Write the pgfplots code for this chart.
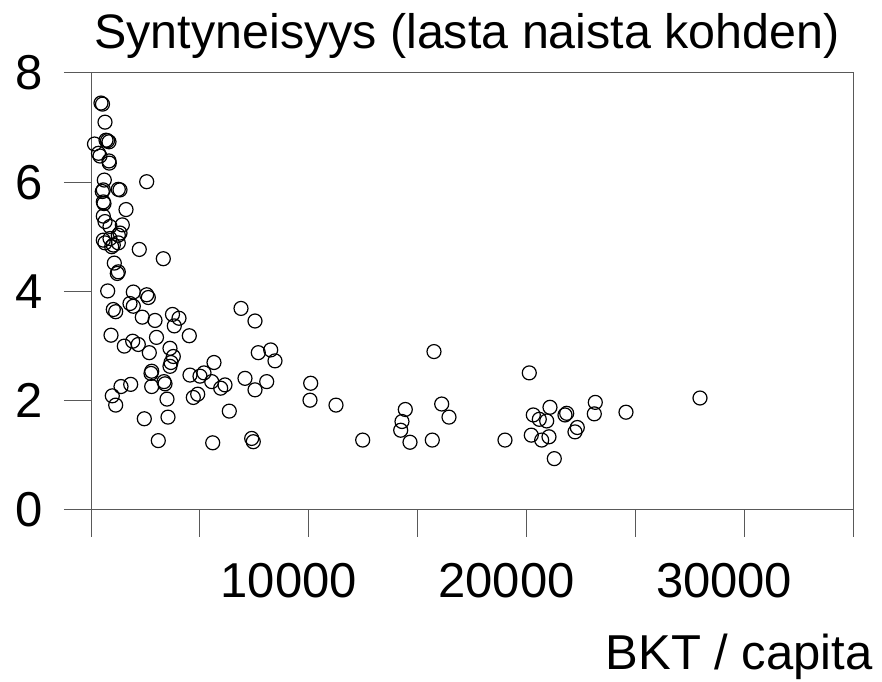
\documentclass[border=0pt]{standalone}
\usepackage{fontspec}
\setmainfont{Liberation Sans}
\usepackage{pgfplots}
\pgfplotsset{compat=1.18}
\begin{document}
\begin{tikzpicture}
\begin{axis}[
  name=ax,
  scale only axis,
  width=381pt, height=218.5pt,
  xmin=0, xmax=35000, ymin=0, ymax=8,
  scaled x ticks=false,
  xtick={0,5000,...,35000},
  xticklabels={,,10000,,20000,,30000,},
  ytick={0,2,4,6,8},
  yticklabels={0,2,4,6,8},
  tick align=outside,
  xtick pos=bottom, ytick pos=left,
  major tick length=13.5pt,
  tick style={draw=black!65, line width=0.5pt},
  axis line style={draw=black!65, line width=0.5pt},
  ticklabel style={font=\fontsize{24.5}{24.5}\selectfont, inner sep=0pt},
  xticklabel style={yshift=-13pt, xshift=-10pt},
  yticklabel style={xshift=-10.5pt},
  /pgf/number format/assume math mode=true,
  title={Syntyneisyys (lasta naista kohden)},
  every axis title/.style={font=\fontsize{24.2}{24.2}\selectfont, at={(axis description cs:0.5,1)}, anchor=base, yshift=12pt, xshift=-2.5pt, inner sep=0pt},
  xlabel={BKT / capita},
  every axis x label/.style={font=\fontsize{24.5}{24.5}\selectfont, at={(axis description cs:1,0)}, anchor=base east, xshift=10pt, yshift=-80pt, inner sep=0pt},
]
\addplot[only marks, mark=o, mark size=3.5pt, mark options={draw=black, line width=0.6pt}] table[row sep=\\] {
x y\\
459 7.45\\ 528 7.43\\ 643 7.10\\ 689 6.77\\ 758 6.76\\ 827 6.74\\ 161 6.70\\ 344 6.53\\ 413 6.48\\ 827 6.39\\
840 6.35\\ 611 6.04\\ 2558 6.01\\ 565 5.86\\ 519 5.83\\ 1332 5.86\\ 1254 5.87\\ 565 5.64\\ 597 5.61\\ 1608 5.50\\
565 5.38\\ 643 5.28\\ 873 5.19\\ 1438 5.22\\ 1254 5.03\\ 565 4.94\\ 643 4.89\\ 873 4.97\\ 1024 4.85\\ 1254 4.89\\
951 4.82\\ 1332 5.07\\ 2218 4.77\\ 3321 4.60\\ 1070 4.52\\ 1254 4.36\\ 1208 4.33\\ 767 4.01\\ 1943 3.99\\ 2558 3.94\\
2632 3.89\\ 1024 3.67\\ 1134 3.63\\ 1791 3.78\\ 1943 3.73\\ 2356 3.53\\ 2940 3.47\\ 3743 3.58\\ 4042 3.51\\ 3826 3.37\\
6890 3.69\\ 7533 3.46\\ 919 3.20\\ 1529 3.00\\ 1915 3.09\\ 2172 3.03\\ 3008 3.16\\ 4515 3.19\\ 2678 2.88\\ 3628 2.96\\
3780 2.81\\ 3674 2.70\\ 3628 2.63\\ 7684 2.88\\ 8254 2.93\\ 8451 2.73\\ 2788 2.54\\ 2756 2.50\\ 3353 2.35\\ 3399 2.31\\
1823 2.30\\ 1378 2.26\\ 2788 2.26\\ 4547 2.47\\ 5006 2.45\\ 5190 2.51\\ 5649 2.70\\ 5544 2.35\\ 5957 2.23\\ 6155 2.29\\
7073 2.41\\ 8070 2.35\\ 7533 2.20\\ 4699 2.06\\ 4901 2.12\\ 978 2.09\\ 1134 1.92\\ 3491 2.03\\ 3537 1.70\\ 6352 1.81\\
2448 1.67\\ 3091 1.27\\ 5590 1.23\\ 7381 1.31\\ 7454 1.25\\ 10091 2.32\\ 10059 2.01\\ 11253 1.92\\ 12479 1.28\\ 14436 1.84\\
14284 1.62\\ 14225 1.46\\ 14652 1.24\\ 15676 1.28\\ 15754 2.90\\ 16108 1.94\\ 16443 1.70\\ 19015 1.28\\ 20131 2.51\\ 20223 1.37\\
20315 1.74\\ 20591 1.66\\ 20931 1.63\\ 21082 1.88\\ 20701 1.28\\ 21036 1.34\\ 21280 0.94\\ 21771 1.74\\ 21849 1.77\\ 22230 1.43\\
22336 1.51\\ 23163 1.97\\ 23117 1.76\\ 24573 1.79\\ 27972 2.05\\
};
\end{axis}
\pgfresetboundingbox
\path[use as bounding box] ([shift={(-45.5pt,-86pt)}]ax.south west) rectangle ([shift={(14.5pt,36.5pt)}]ax.north east);
\end{tikzpicture}
\end{document}
